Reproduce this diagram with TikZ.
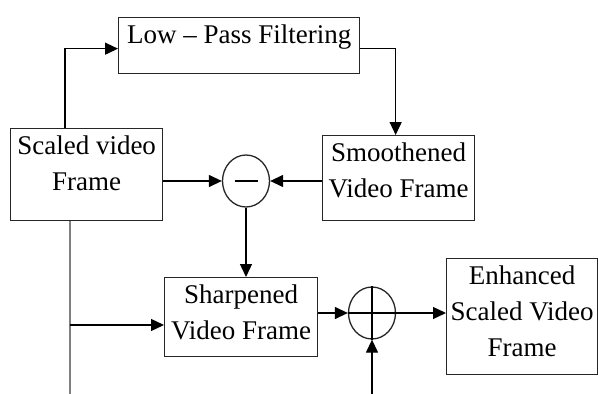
\documentclass[tikz,border=0pt]{standalone}
\usepackage{fontspec}
\setmainfont{Liberation Serif}
\usetikzlibrary{shapes.geometric}
\usetikzlibrary{arrows.meta}
\newcommand{\blktext}[3]{\parbox[t][#2][t]{#1}{\centering #3}}

\begin{document}
\begin{tikzpicture}[x=1pt,y=-1pt,
  blk/.style={draw=black!85,line width=1.3pt,anchor=north west,inner xsep=0pt,inner ysep=7.5pt,font=\fontsize{27}{36}\selectfont},
  sumnode/.style={draw=black!85,line width=1.3pt,ellipse,minimum width=47pt,minimum height=52pt,inner sep=0pt},
  arr/.style={line width=1.3pt,-{Triangle[length=13pt,width=12pt]}}]
\useasboundingbox (0,0) rectangle (598,394);
\node[blk] (lpf) at (118,17) {\blktext{241pt}{41pt}{Low -- Pass Filtering}};
\node[blk] (svf) at (10,128) {\blktext{152pt}{77pt}{Scaled video\\Frame}};
\node[blk] (smf) at (322,135) {\blktext{152pt}{70pt}{Smoothened\\Video Frame}};
\node[blk] (shf) at (164,277) {\blktext{153pt}{64pt}{Sharpened\\Video Frame}};
\node[blk] (esf) at (446,258) {\blktext{151pt}{101pt}{Enhanced\\Scaled Video\\Frame}};
\node[sumnode] (minus) at (246,181) {};
\draw[line width=1.3pt] ([xshift=-11.5pt]minus.center) -- ([xshift=11.5pt]minus.center);
\node[sumnode] (plus) at (372,313) {};
\draw[line width=1.3pt] (plus.west) -- (plus.east) (plus.north) -- (plus.south);

\draw[arr] ([xshift=55pt]svf.north west) |- ([yshift=-3pt]lpf.west);
\draw[arr] ([yshift=-3pt]lpf.east) -| ([xshift=-3pt]smf.north);
\draw[arr] (minus.west -| svf.east) -- (minus.west);
\draw[arr] (minus.east -| smf.west) -- (minus.east);
\draw[arr] (minus.south) -- (minus.south |- shf.north);
\coordinate (tap) at (70,325);
\coordinate (lend) at (70,394);
\draw[black!50,line width=2pt] ([xshift=60pt]svf.south west) -- (lend);
\draw[arr] (tap) -- (tap -| shf.west);
\draw[arr] (plus.west -| shf.east) -- (plus.west);
\draw[arr] (plus.east) -- (plus.east -| esf.west);
\coordinate (pin) at (372,394);
\draw[arr] (pin) -- (plus.south);

\end{tikzpicture}
\end{document}
